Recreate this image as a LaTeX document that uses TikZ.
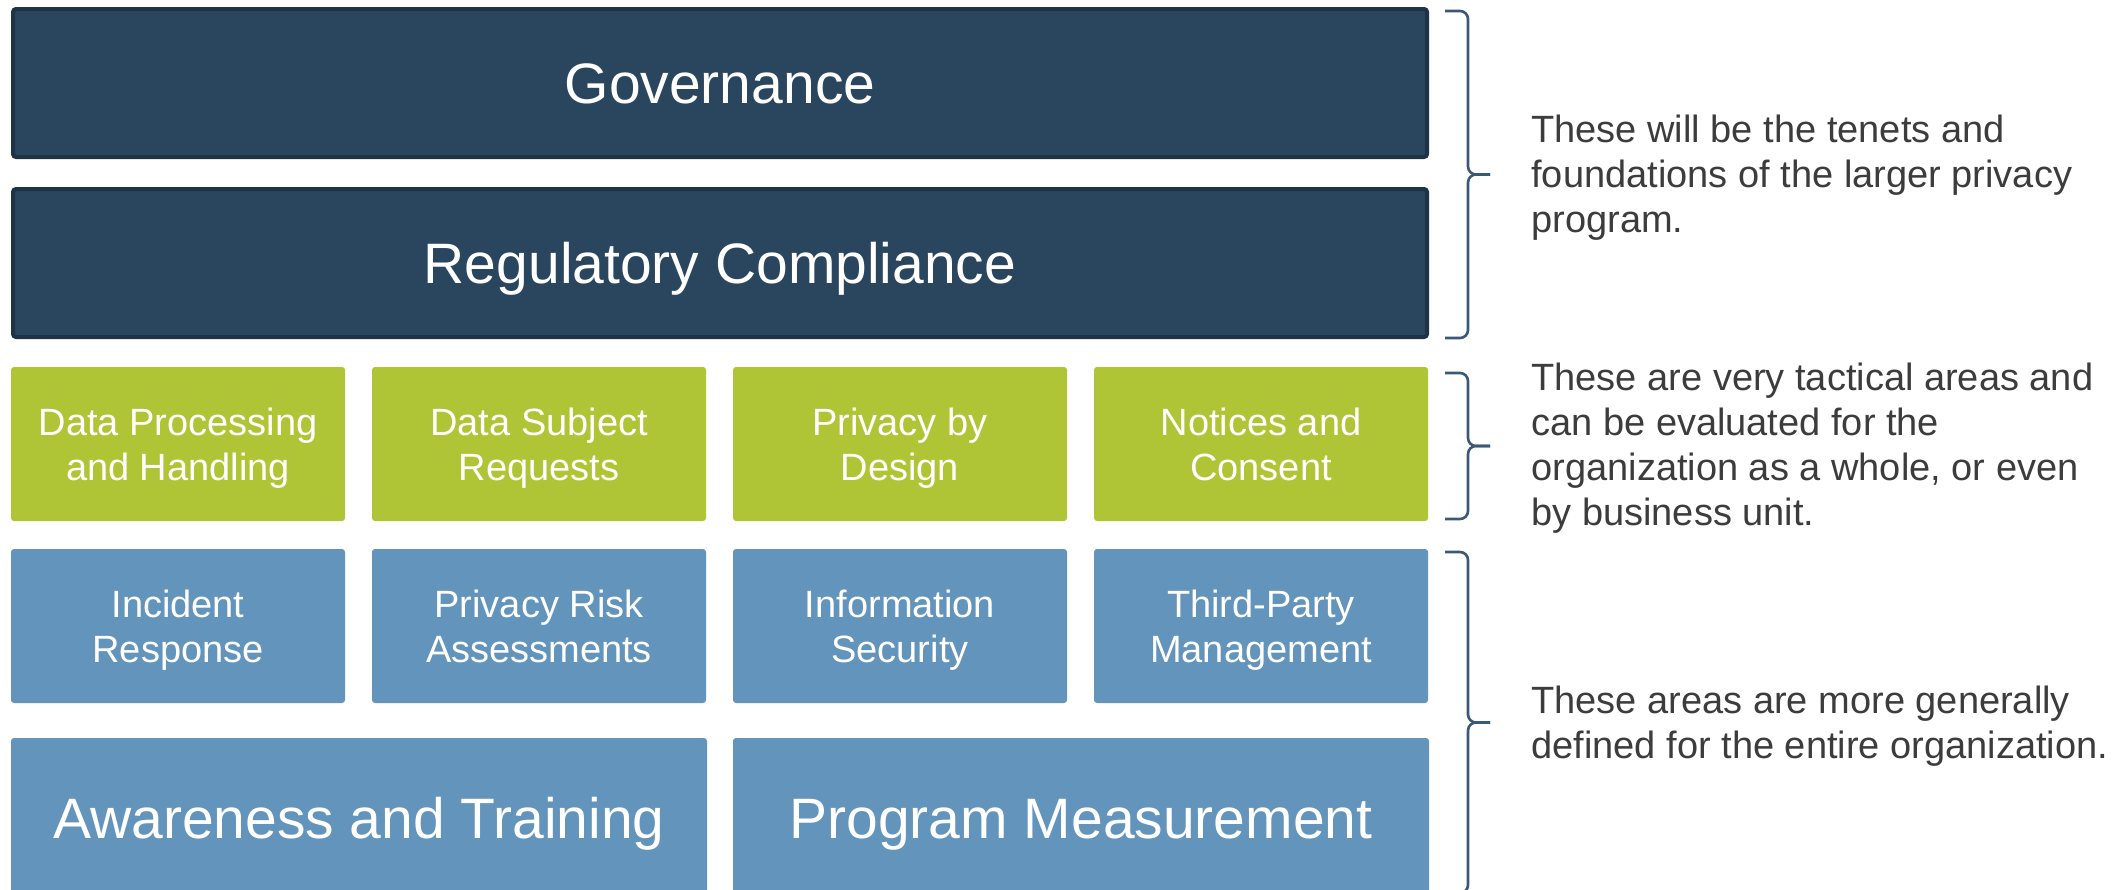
\documentclass[tikz,border=0pt]{standalone}
\usepackage{fontspec}
\setmainfont{Liberation Sans}

\definecolor{navy}{HTML}{2A465E}
\definecolor{navyedge}{HTML}{1E3346}
\definecolor{leaf}{HTML}{AFC536}
\definecolor{steel}{HTML}{6394BC}
\definecolor{notegray}{HTML}{3C3C3C}
\definecolor{bracecol}{HTML}{3A5878}

\tikzset{
  tile/.style={rectangle, rounded corners=1.5pt, text=white, align=center,
    inner sep=0pt},
  bigtile/.style={tile, font=\fontsize{28.5}{30}\selectfont,
    text height=20.5pt, text depth=0pt},
  smalltile/.style={tile, minimum width=167pt, minimum height=77pt,
    font=\fontsize{19}{22.5}\selectfont,
    execute at begin node={\rule{0pt}{40.5pt}},
    execute at end node={\vphantom{g}}},
  topbar/.style={bigtile, fill=navy, draw=navyedge, line width=2pt,
    minimum width=707pt, minimum height=74pt},
  greentile/.style={smalltile, fill=leaf},
  bluetile/.style={smalltile, fill=steel},
  basetile/.style={bigtile, fill=steel, minimum width=348pt, minimum height=80pt},
  bracket/.style={draw=bracecol, line width=1.3pt, rounded corners=4pt},
  note/.style={anchor=west, align=left, inner sep=0pt, text=notegray,
    font=\fontsize{19}{22.5}\selectfont}
}

\begin{document}
\begin{tikzpicture}[x=0.5pt,y=-0.5pt]
        \useasboundingbox (0,0) rectangle (2128,889);

        % the two top bars
        \node[topbar] (gov) at (720,83) {Governance};
        \node[topbar] (reg) at (720,263) {Regulatory Compliance};

        % the tactical areas
        \node[greentile] (dph) at (178,444) {Data Processing\\and Handling};
        \node[greentile] (dsr) at (539,444) {Data Subject\\Requests};
        \node[greentile] (pbd) at (900,444) {Privacy by\\Design};
        \node[greentile] (nac) at (1261,444) {Notices and\\Consent};

        % the general areas
        \node[bluetile] (inc) at (178,626) {Incident\\Response};
        \node[bluetile] (pra) at (539,626) {Privacy Risk\\Assessments};
        \node[bluetile] (isec) at (900,626) {Information\\Security};
        \node[bluetile] (tpm) at (1261,626) {Third-Party\\Management};
        \node[basetile] (awt) at (359,818) {Awareness and Training};
        \node[basetile] (pgm) at (1081,818) {Program Measurement};

        % the brace points (ends, bends and tips)
        \coordinate (b1top) at (1445,11);
        \coordinate (b1bot) at (1445,338);
        \coordinate (b1mid) at (1468,174.5);
        \coordinate (b1tip) at (1490,174.5);
        \coordinate (b2top) at (1445,373);
        \coordinate (b2bot) at (1445,519);
        \coordinate (b2mid) at (1468,446);
        \coordinate (b2tip) at (1490,446);
        \coordinate (b3top) at (1445,552);
        \coordinate (b3bot) at (1445,893);
        \coordinate (b3mid) at (1468,722.5);
        \coordinate (b3tip) at (1490,722.5);

        % draw the braces
        \draw[bracket] (b1top) -| (b1mid) -- (b1tip);
        \draw[bracket] (b1bot) -| (b1mid) -- (b1tip);
        \draw[bracket] (b2top) -| (b2mid) -- (b2tip);
        \draw[bracket] (b2bot) -| (b2mid) -- (b2tip);
        \draw[bracket] (b3top) -| (b3mid) -- (b3tip);
        \draw[bracket] (b3bot) -| (b3mid) -- (b3tip);

        % the texts
        \node[note] (note1) at (1531,178) {These will be the tenets and\\foundations of the larger privacy\\program.};
        \node[note] (note2) at (1531,448) {These are very tactical areas and\\can be evaluated for the\\organization as a whole, or even\\by business unit.};
        \node[note] (note3) at (1531,726) {These areas are more generally\\defined for the entire organization.};

\end{tikzpicture}
\end{document}
